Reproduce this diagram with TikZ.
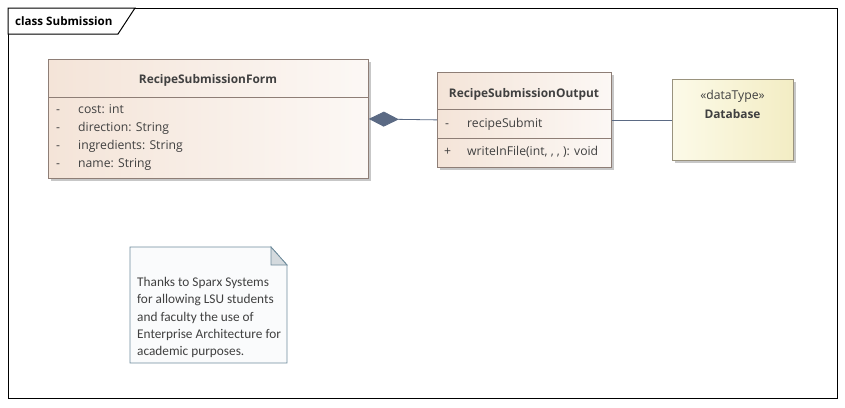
\documentclass[tikz,border=0pt]{standalone}
\usepackage{fontspec}
\setmainfont{Open Sans}
\newfontfamily\notefont{Carlito}
\usetikzlibrary{arrows.meta,shadows,positioning}

\definecolor{classborder}{HTML}{8E7E76}
\definecolor{classleft}{HTML}{F4E4D8}
\definecolor{classright}{HTML}{FCF8F5}
\definecolor{dbleft}{HTML}{FCFAE8}
\definecolor{dbright}{HTML}{F3EDC4}
\definecolor{dbborder}{HTML}{9A937E}
\definecolor{noteborder}{HTML}{6F8C9C}
\definecolor{notefill}{HTML}{FAFBFC}
\definecolor{notefold}{HTML}{D4DADE}
\definecolor{linkcolor}{HTML}{5B6A84}
\definecolor{umltext}{HTML}{404040}

\tikzset{
  classbox/.style={draw=classborder, line width=0.8pt, left color=classleft, right color=classright,
    anchor=north west, inner sep=0pt,
    drop shadow={shadow xshift=3pt, shadow yshift=-3pt, fill=black!22, opacity=1}},
  classname/.style={text=umltext, font=\fontsize{11.9}{14}\selectfont\bfseries, inner sep=0pt},
  member/.style={text=umltext, font=\fontsize{12.2}{14}\selectfont, anchor=west, inner sep=0pt,
    text height=9pt, text depth=3pt},
  compline/.style={draw=classborder, line width=0.8pt},
  link/.style={draw=linkcolor, line width=0.8pt}
}

\begin{document}
\begin{tikzpicture}[x=1pt, y=-1pt]
    \useasboundingbox (0,0) rectangle (845,407);

    % diagram frame
    \draw [line width=1pt] (8,8) rectangle (837,398);
    \draw [line width=1pt, fill=white] (8,8) -- (135,8) -- (118,34) -- (8,34) -- cycle;
    \node (frametitle) [anchor=west, inner sep=0pt, font=\fontsize{11.6}{14}\selectfont\bfseries] at (15,21) {class Submission};

    % RecipeSubmissionForm
    \node (form) [classbox, minimum width=320pt, minimum height=119pt] at (48,59) {};
    \node (formname) [classname] at (208,80) {RecipeSubmissionForm};
    \draw [compline] (form.west |- 0,97) -- (form.east |- 0,97);
    \foreach \attr [count=\i] in {cost: int, direction: String, ingredients: String, name: String} {
        \node (formvis\i) [member] at (56,92.5+17.9*\i) {-};
        \node (formattr\i) [member] at (78,92.5+17.9*\i) {\attr};
    }

    % RecipeSubmissionOutput
    \node (output) [classbox, minimum width=174pt, minimum height=95pt] at (437,72) {};
    \node (outputname) [classname] at (524,94) {RecipeSubmissionOutput};
    \draw [compline] (output.west |- 0,109) -- (output.east |- 0,109);
    \draw [compline] (output.west |- 0,138) -- (output.east |- 0,138);
    \node (outputvis1) [member] at (445,124) {-};
    \node (outputattr1) [member] at (467,124) {recipeSubmit};
    \node (outputvis2) [member] at (444,152) {+};
    \node (outputop1) [member] at (467,152) {writeInFile(int, , , ): void};

    % Database
    \node (db) [classbox, draw=dbborder, left color=dbleft, right color=dbright,
        minimum width=121pt, minimum height=81pt] at (672,79) {};
    \node (dbstereo) [member, anchor=center] at (732.5,96) {«dataType»};
    \node (dbname) [classname] at (732.5,114) {Database};

    % connectors
    \draw [link, {Diamond[length=30pt, width=15pt, fill=linkcolor]}-] (form.east) -- (output.west);
    \draw [link] (output.east) -- (db.west);

    % note
    \draw [draw=noteborder, line width=0.8pt, fill=notefill] (130,247) -- (271,247) -- (287,265) -- (287,363) -- (130,363) -- cycle;
    \draw [draw=noteborder, line width=0.8pt, fill=notefold] (271,247) -- (271,265) -- (287,265) -- cycle;
    \node (note) [anchor=north west, inner sep=0pt, align=left, text=umltext,
        font=\notefont\fontsize{13.3}{17.3}\selectfont] at (137,277)
        {Thanks to Sparx Systems\\for allowing LSU students\\and faculty the use of\\Enterprise Architecture for\\academic purposes.};
\end{tikzpicture}
\end{document}
